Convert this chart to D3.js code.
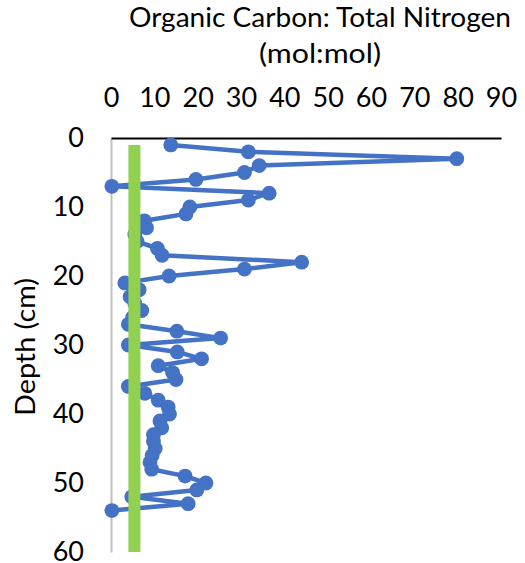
<!DOCTYPE html>
<html>
<head>
<meta charset="utf-8">
<script src="https://cdn.jsdelivr.net/npm/d3@7"></script>
<style>
  body { margin: 0; background: #fff; }
  text { font-family: Lato, "Open Sans", sans-serif; fill: #000; }
</style>
</head>
<body>
<div id="chart"></div>
<script>
// depth of each sample (cm)
var depths = [1, 2, 3, 4, 5, 6, 7, 8, 9, 10, 11, 12, 13, 14, 15, 16, 17, 18,
  19, 20, 21, 22, 23, 24, 25, 26, 27, 28, 29, 30, 31, 32, 33, 34, 35, 36,
  37, 38, 39, 40, 41, 42, 43, 44, 45, 46, 47, 48, 49, 50, 51, 52, 53, 54];
// organic C : total N ratio
var ratios = [13.8, 31.7, 79.8, 34.2, 30.8, 19.6, 0.2, 36.5, 31.7, 18.2, 17.3, 7.7,
  8.2, 5.5, 6.0, 10.7, 11.8, 44.0, 30.8, 13.4, 3.2, 6.5, 4.4, 5.5, 7.1, 5.0,
  4.0, 15.2, 25.3, 4.0, 15.3, 20.9, 10.9, 14.2, 15.0, 4.0, 7.8, 10.9, 13.2,
  13.5, 11.3, 11.7, 9.8, 9.8, 10.2, 9.5, 9.0, 9.4, 17.1, 21.9, 19.8, 4.8,
  17.8, 0.2];
// reference line (green)
var refRatio = [5.4, 5.4];
var refDepth = [1, 60];

var xTicks = [0, 10, 20, 30, 40, 50, 60, 70, 80, 90];
var yTicks = [0, 10, 20, 30, 40, 50, 60];

var svgWidth = 525;
var svgHeight = 563;

var svg = d3.select("#chart")
  .append("svg")
  .attr("width", svgWidth)
  .attr("height", svgHeight);

var xScale = d3.scaleLinear().domain([0, 90]).range([111, 501]);
var yScale = d3.scaleLinear().domain([0, 60]).range([138, 552]);

// y axis (grey line on the left)
var yAxis = svg.append("g")
  .attr("transform", "translate(111,0)")
  .call(d3.axisLeft(yScale).tickValues(yTicks).tickSize(0).tickPadding(27));
yAxis.select(".domain").attr("stroke", "#bfbfbf").attr("stroke-width", 2);
yAxis.selectAll("text")
  .style("font-family", "Lato")
  .style("font-size", "27px")
  .attr("fill", "#000");

// x axis on top
var xAxis = svg.append("g")
  .attr("transform", "translate(0,138)")
  .call(d3.axisTop(xScale).tickValues(xTicks).tickSize(0).tickPadding(31));
xAxis.select(".domain").attr("stroke", "#000").attr("stroke-width", 2);
xAxis.selectAll("text")
  .style("font-family", "Lato")
  .style("font-size", "27px")
  .attr("fill", "#000");

// the data series
var pts = depths.map(function(d, i) { return { depth: d, ratio: ratios[i] }; });

var line = d3.line()
  .x(d => xScale(d.ratio))
  .y(d => yScale(d.depth));

svg.append("path")
  .datum(pts)
  .attr("fill", "none")
  .attr("stroke", "#4472c4")
  .attr("stroke-width", 4.5)
  .attr("stroke-linejoin", "round")
  .attr("d", line);

svg.selectAll("circle.pt")
  .data(pts)
  .enter()
  .append("circle")
  .attr("class", "pt")
  .attr("cx", d => xScale(d.ratio))
  .attr("cy", d => yScale(d.depth))
  .attr("r", 7.4)
  .attr("fill", "#4472c4");

// green reference line, drawn over the series
var refPts = refDepth.map(function(d, i) { return { depth: d, ratio: refRatio[i] }; });
svg.append("path")
  .datum(refPts)
  .attr("fill", "none")
  .attr("stroke", "#92d050")
  .attr("stroke-width", 12)
  .attr("d", line);

// titles
svg.append("text")
  .attr("x", 320)
  .attr("y", 27)
  .attr("text-anchor", "middle")
  .attr("textLength", 382)
  .attr("lengthAdjust", "spacingAndGlyphs")
  .style("font-size", "27px")
  .text("Organic Carbon: Total Nitrogen");

svg.append("text")
  .attr("x", 320)
  .attr("y", 63)
  .attr("text-anchor", "middle")
  .attr("textLength", 122)
  .attr("lengthAdjust", "spacingAndGlyphs")
  .style("font-size", "27px")
  .text("(mol:mol)");

svg.append("text")
  .attr("transform", "translate(35,347) rotate(-90)")
  .attr("text-anchor", "middle")
  .attr("textLength", 138)
  .attr("lengthAdjust", "spacingAndGlyphs")
  .style("font-size", "27px")
  .text("Depth (cm)");
</script>
</body>
</html>
